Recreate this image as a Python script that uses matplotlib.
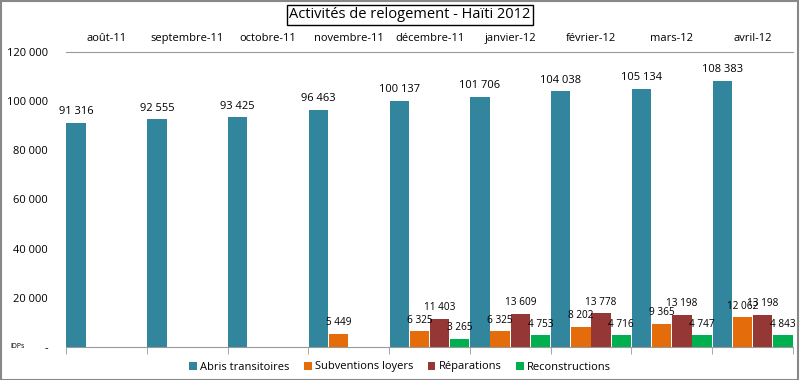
import numpy as np
import matplotlib.pyplot as plt
from matplotlib.patches import Rectangle

plt.rcParams['font.family'] = ['Open Sans', 'DejaVu Sans']

# data
mois = ["août-11", "septembre-11", "octobre-11", "novembre-11", "décembre-11",
        "janvier-12", "février-12", "mars-12", "avril-12"]
abris = [91316, 92555, 93425, 96463, 100137, 101706, 104038, 105134, 108383]
subventions = [0, 0, 0, 5449, 6325, 6325, 8202, 9365, 12062]
reparations = [0, 0, 0, 0, 11403, 13609, 13778, 13198, 13198]
reconstructions = [0, 0, 0, 0, 3265, 4753, 4716, 4747, 4843]

series = [("Abris transitoires", abris, "#31859C"),
          ("Subventions loyers", subventions, "#E46C0A"),
          ("Réparations", reparations, "#953735"),
          ("Reconstructions", reconstructions, "#00B050")]


def fmt(v):
    return "{:,}".format(v).replace(",", " ")


fig = plt.figure(figsize=(8, 3.8), dpi=100)
ax = fig.add_axes([66 / 800, 1 - 347 / 380, 727 / 800, 295 / 380])

x = np.arange(len(mois))
w = 0.25
for i, (name, vals, col) in enumerate(series):
    vals = np.array(vals)
    mask = vals > 0
    pos = x[mask] - 0.5 + w * i + w / 2
    bars = ax.bar(pos, vals[mask], width=w * 0.96, color=col, label=name)
    fs = 8 if i == 0 else 7.2
    for b, v in zip(bars, vals[mask]):
        ax.annotate(fmt(v), (b.get_x() + b.get_width() / 2, v),
                    xytext=(0, 4), textcoords="offset points",
                    ha="center", va="bottom", fontsize=fs)

ax.set_xlim(-0.5, len(mois) - 0.5)
ax.set_ylim(0, 120000)
yt = np.arange(0, 120001, 20000)
ax.set_yticks(yt)
ax.set_yticklabels(["-"] + [fmt(v) for v in yt[1:]], fontsize=8)
ax.tick_params(axis="y", length=0, pad=13)

# month names on top, boundary ticks on bottom
ax.set_xticks(x)
ax.set_xticklabels(mois, fontsize=8)
ax.tick_params(axis="x", which="major", length=0, top=False, bottom=False,
               labeltop=True, labelbottom=False, pad=6)
ax.set_xticks(np.arange(-0.5, len(mois)), minor=True)
ax.tick_params(axis="x", which="minor", length=5, color="#999999", bottom=True)

for s in ["left", "right"]:
    ax.spines[s].set_visible(False)
for s in ["top", "bottom"]:
    ax.spines[s].set_color("#999999")

fig.text(10 / 800, 1 - 347 / 380, "IDPs", fontsize=5, va="center")

fig.text(410 / 800, 1 - 15 / 380, "Activités de relogement - Haïti 2012",
         fontsize=10.5, ha="center", va="center",
         bbox=dict(boxstyle="square,pad=0.15", fc="white", ec="black", lw=1))

fig.legend(loc="center", bbox_to_anchor=(0.5, 1 - 367 / 380), ncol=4,
           frameon=False, fontsize=8, handlelength=0.7, handleheight=0.7,
           handletextpad=0.3, columnspacing=1.3)

fig.patches.append(Rectangle((0.001, 0.001), 0.997, 0.997, transform=fig.transFigure,
                             fill=False, ec="#888888", lw=1.5))

fig.savefig("out.png", dpi=100)
